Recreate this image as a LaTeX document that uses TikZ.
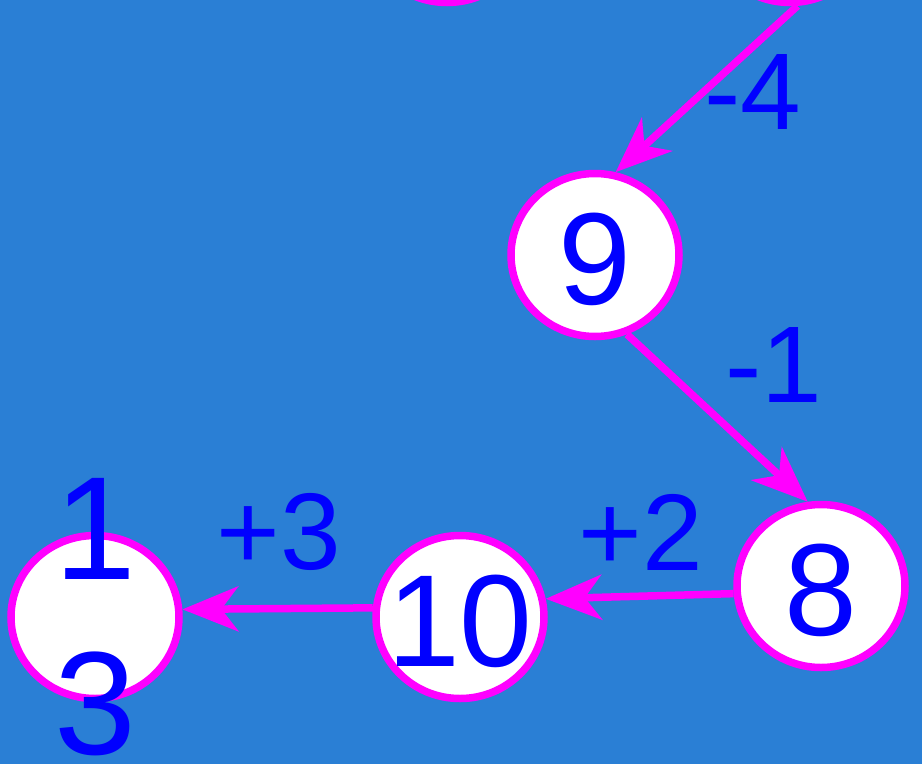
\documentclass[tikz,border=0pt]{standalone}
\usepackage{fontspec}
\setmainfont{Liberation Sans}
\usetikzlibrary{arrows.meta, shapes.geometric}
\definecolor{bgblue}{RGB}{42,127,213}
\definecolor{numblue}{RGB}{0,0,255}
\definecolor{edgemag}{RGB}{255,0,255}

\begin{document}
\begin{tikzpicture}[x=1pt, y=-1pt,
    vertex/.style={ellipse, draw=edgemag, line width=7.5pt, fill=white,
      minimum width=168pt, minimum height=163pt, inner sep=0pt},
    num/.style={text=numblue, font=\fontsize{131}{157}\selectfont, inner sep=0pt},
    wt/.style={text=numblue, font=\fontsize{109}{131}\selectfont, inner sep=0pt},
    edge/.style={draw=edgemag, line width=7.5pt,
      -{Stealth[length=56pt, width=45pt, inset=17pt]}}]
    % 背景
    \fill[bgblue] (0,0) rectangle (922,764);
    \useasboundingbox (0,0) rectangle (922,764);
    \clip (0,0) rectangle (922,764);
    % 结点
    \node[vertex] (ntl) at (447,-79) {};
    \node[vertex] (ntr) at (790,-79) {};
    \node[vertex] (n9) at (595,255) {};
    \node[vertex] (n8) at (821,586) {};
    \node[vertex] (n10) at (460,617) {};
    \node[vertex] (n13) at (95,617) {};
    % 有向边
    \draw[edge] (ntr.-85) -- (n9.76);
    \draw[edge] (n9.-68) -- (n8.99);
    \draw[edge] (n8.185) -- (n10.12);
    \draw[edge] (n10.174) -- (n13.5);
    % 结点编号
    \node[num] (t9) at ([yshift=-4pt]n9.center) {9};
    \node[num] (t8) at ([yshift=-4pt]n8.center) {8};
    \node[num] (t10) at ([yshift=-4pt]n10.center) {10};
    \node[num, align=center, font=\fontsize{147}{175}\selectfont] (t13) at (n13.center) {1\\3};
    % 边权
    \node[wt] (w1) at (753,92) {-4};
    \node[wt] (w2) at (774,365) {-1};
    \node[wt] (w3) at (641,532) {+2};
    \node[wt] (w4) at (279,532) {+3};
\end{tikzpicture}
\end{document}
